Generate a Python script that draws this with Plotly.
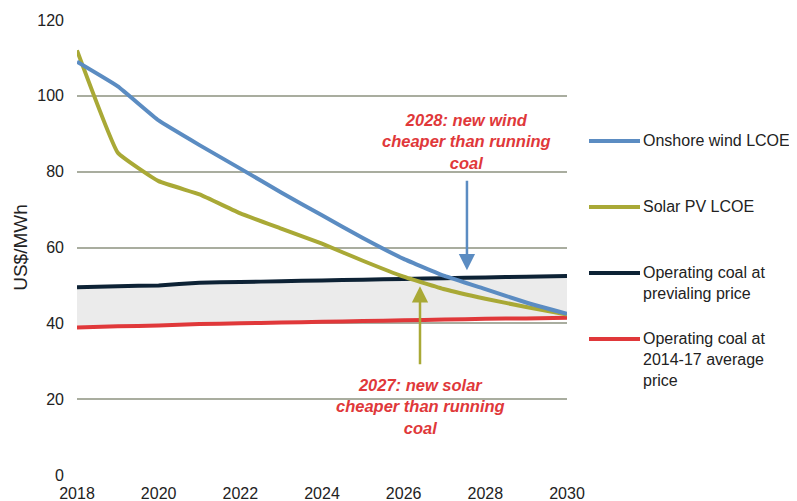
import plotly.graph_objects as go

years = list(range(2018, 2031))
wind = [109.0, 102.5, 93.5, 87.0, 80.8, 74.5, 68.5, 62.5, 57.0, 52.5, 49.0, 45.5, 42.5]
solar = [112.0, 85.0, 77.5, 74.0, 69.0, 65.0, 61.0, 56.5, 52.3, 49.0, 46.5, 44.3, 42.3]
coal_prev = [49.5, 49.8, 50.0, 50.7, 50.9, 51.1, 51.3, 51.5, 51.7, 51.9, 52.1, 52.3, 52.5]
coal_avg = [38.9, 39.2, 39.4, 39.8, 40.0, 40.2, 40.4, 40.6, 40.8, 41.0, 41.2, 41.3, 41.5]

names = ["Onshore wind LCOE", "Solar PV LCOE",
         "Operating coal at<br>previaling price",
         "Operating coal at<br>2014-17 average<br>price"]
colors = ["#5b8cc2", "#a9a936", "#0d2235", "#e0383a"]

ann_wind_text = "2028: new wind<br>cheaper than running<br>coal"
ann_solar_text = "2027: new solar<br>cheaper than running<br>coal"
wind_cross_x, wind_arrow_from, wind_arrow_to = 2027.55, 78.0, 54.0
solar_cross_x, solar_arrow_from, solar_arrow_to = 2026.4, 28.8, 49.8

FONT = "Liberation Sans, Arial, sans-serif"
RED = "#e0383a"

# page body has an 8px margin; compensate so plot area lands at x 77..567, y 20..475
OFF = 8
W, H = 797 - OFF, 501 - OFF
L, T, R, B = 77 - OFF, 20 - OFF, 230, 26
PW, PH = W - L - R, H - T - B

fig = go.Figure()
fig.add_trace(go.Scatter(x=years, y=coal_avg, mode="lines", line=dict(width=0),
                         showlegend=False, hoverinfo="skip"))
fig.add_trace(go.Scatter(x=years, y=coal_prev, mode="lines", line=dict(width=0),
                         fill="tonexty", fillcolor="#ebebeb", showlegend=False, hoverinfo="skip"))

series = [wind, solar, coal_prev, coal_avg]
for i in [3, 2, 1, 0]:
    fig.add_trace(go.Scatter(x=years, y=series[i], mode="lines", name=names[i],
                             line=dict(color=colors[i], width=4, shape="spline", smoothing=0.3),
                             showlegend=False))

# arrows
fig.add_annotation(x=wind_cross_x, y=wind_arrow_to, ax=wind_cross_x, ay=wind_arrow_from,
                   xref="x", yref="y", axref="x", ayref="y", text="", showarrow=True,
                   arrowhead=2, arrowsize=1.3, arrowwidth=2.5, arrowcolor=colors[0])
fig.add_annotation(x=solar_cross_x, y=solar_arrow_to, ax=solar_cross_x, ay=solar_arrow_from,
                   xref="x", yref="y", axref="x", ayref="y", text="", showarrow=True,
                   arrowhead=2, arrowsize=1.3, arrowwidth=2.5, arrowcolor=colors[1])
fig.add_annotation(x=wind_cross_x, y=(475 - 142) / 3.79, xref="x", yref="y",
                   text="<b><i>" + ann_wind_text + "</i></b>", showarrow=False,
                   font=dict(family=FONT, size=16.5, color=RED), align="center")
fig.add_annotation(x=solar_cross_x, y=(475 - 407) / 3.79, xref="x", yref="y",
                   text="<b><i>" + ann_solar_text + "</i></b>", showarrow=False,
                   font=dict(family=FONT, size=16.5, color=RED), align="center")

# custom legend (positions in page pixels)
leg_y = [141, 207, 273, 339]
def px_x(p):
    return (p - 77) / PW
def px_y(p):
    return 1 - (p - 20) / PH
for i in range(4):
    fig.add_shape(type="line", xref="paper", yref="paper",
                  x0=px_x(589), x1=px_x(640), y0=px_y(leg_y[i]), y1=px_y(leg_y[i]),
                  line=dict(color=colors[i], width=4))
    fig.add_annotation(xref="paper", yref="paper", x=px_x(641),
                       y=px_y(leg_y[i] - 11), xanchor="left", yanchor="top",
                       text=names[i], showarrow=False, align="left",
                       font=dict(family=FONT, size=16, color="#222222"))

fig.update_layout(
    width=W, height=H,
    margin=dict(l=L, r=R, t=T, b=B, autoexpand=False),
    paper_bgcolor="white", plot_bgcolor="white",
    font=dict(family=FONT, size=16, color="#222222"),
    showlegend=False,
)
fig.update_xaxes(range=[2018, 2030], tickvals=list(range(2018, 2031, 2)),
                 showgrid=False, zeroline=False, showline=False, ticks="",
                 automargin=False,
                 tickfont=dict(size=16, color="#222222"), ticklabelstandoff=7)
fig.update_yaxes(range=[0, 120], tickvals=[0, 20, 40, 60, 80, 100, 120],
                 showgrid=True, gridcolor="#a9ad9f", gridwidth=1.5, zeroline=False,
                 showline=False, ticks="", ticklabelstandoff=12, automargin=False,
                 tickfont=dict(size=16, color="#222222"),
                 title=dict(text="US$/MWh", font=dict(size=19, color="#222222"), standoff=4))

fig.write_html("out.html")
